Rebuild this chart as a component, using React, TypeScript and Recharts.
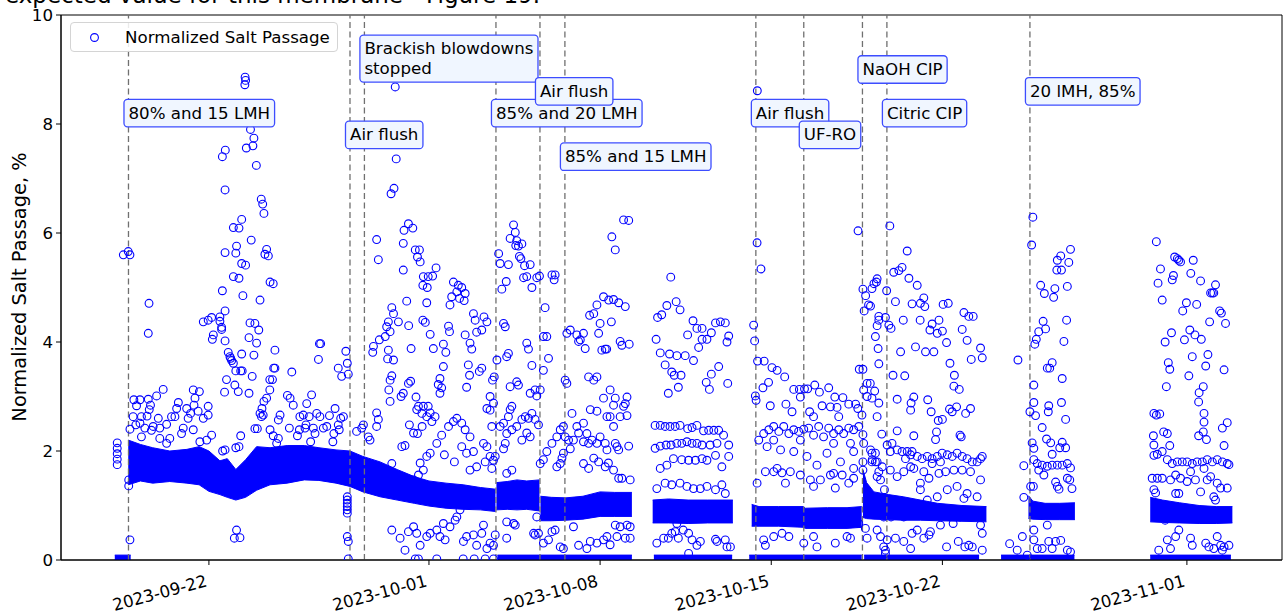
import React from "react";
import {
  ComposedChart,
  Area,
  Scatter,
  XAxis,
  YAxis,
  ReferenceLine,
  ReferenceDot,
  ReferenceArea,
} from "recharts";

type Pt = [number, number];
type Band = [number, number, number];

// days counted from 2023-09-22
const tickDays = [0, 9, 16, 23, 30, 40];
const tickLabels = ["2023-09-22", "2023-10-01", "2023-10-08", "2023-10-15", "2023-10-22", "2023-11-01"];
const yTicks = [0, 2, 4, 6, 8, 10];

const eventDays = [-3.29, 5.77, 6.36, 11.74, 13.54, 14.56, 22.37, 24.33, 26.73, 27.73, 33.58];
const eventLabels = [
  "80% and 15 LMH",
  "Air flush",
  "Brackish blowdowns\nstopped",
  "85% and 20 LMH",
  "Air flush",
  "85% and 15 LMH",
  "Air flush",
  "UF-RO",
  "NaOH CIP",
  "Citric CIP",
  "20 lMH, 85%",
];
const eventLevels = [8.2, 7.8, 9.2, 8.2, 8.6, 7.4, 8.2, 7.8, 9.0, 8.2, 8.6];

// dense core of the measurements: [day, low, high]
const bandAB: Band[] = [
  [-3.3, 1.38, 2.2], [-2.8, 1.45, 2.12], [-2.3, 1.41, 2.06], [-1.6, 1.44, 2.0], [-0.9, 1.41, 2.03],
  [-0.4, 1.38, 2.08], [0.0, 1.26, 2.0], [0.45, 1.2, 1.82], [0.75, 1.15, 1.86], [1.1, 1.1, 1.66],
  [1.5, 1.15, 1.84], [1.95, 1.28, 2.08], [2.5, 1.38, 2.06], [3.2, 1.41, 2.1], [3.9, 1.47, 2.1],
  [4.5, 1.46, 2.06], [5.2, 1.41, 2.02], [5.77, 1.35, 2.0], [6.3, 1.25, 1.9], [7.0, 1.16, 1.8],
  [7.7, 1.1, 1.66], [8.4, 1.04, 1.53], [9.0, 0.99, 1.45], [9.7, 0.95, 1.41], [10.4, 0.93, 1.38],
  [11.1, 0.92, 1.33], [11.72, 0.89, 1.3],
];
const bandC: Band[] = [[11.76, 0.92, 1.42], [12.2, 0.93, 1.44], [12.6, 0.92, 1.47], [13.0, 0.93, 1.45], [13.52, 0.9, 1.47]];
const bandD: Band[] = [[13.56, 0.72, 1.17], [14.0, 0.72, 1.15], [14.6, 0.73, 1.14], [15.3, 0.75, 1.17], [16.0, 0.8, 1.25], [16.6, 0.8, 1.24], [17.3, 0.8, 1.24]];
const bandE: Band[] = [[18.15, 0.68, 1.1], [18.8, 0.68, 1.12], [19.6, 0.67, 1.1], [20.4, 0.68, 1.1], [21.43, 0.68, 1.1]];
const bandF: Band[] = [[22.2, 0.62, 1.02], [22.5, 0.62, 0.98], [23.3, 0.62, 0.98], [24.3, 0.6, 0.98], [24.4, 0.58, 0.95], [25.3, 0.58, 0.96], [26.1, 0.58, 0.96], [26.7, 0.6, 0.98]];
const bandG: Band[] = [[26.75, 0.78, 1.66], [26.9, 0.76, 1.42], [27.2, 0.75, 1.25], [27.8, 0.74, 1.2], [28.4, 0.73, 1.16], [29.1, 0.73, 1.1], [29.8, 0.72, 1.04], [30.8, 0.71, 1.0], [31.8, 0.7, 0.98]];
const bandH: Band[] = [[33.52, 0.76, 1.18], [33.7, 0.75, 1.08], [34.2, 0.74, 1.04], [34.8, 0.74, 1.04], [35.42, 0.74, 1.05]];
const bandI: Band[] = [[38.5, 0.7, 1.15], [39.0, 0.69, 1.1], [39.7, 0.68, 1.05], [40.5, 0.67, 1.0], [41.2, 0.67, 0.98], [41.86, 0.68, 0.98]];

// stretches where readings sit at ~0
const zeroRuns: [number, number][] = [[-3.85, -3.2], [11.8, 17.3], [18.2, 21.4], [22.1, 26.7], [26.8, 31.5], [32.4, 35.4], [38.5, 41.8]];
const zeroSolo = [5.7, 8.44, 8.57, 9.32, 10.4, 10.85, 11.3, 11.64];

const outliersA: Pt[] = [
  [-3.75, 2.15], [-3.75, 2.05], [-3.75, 1.95], [-3.75, 1.85], [-3.75, 1.75],
  [-3.5, 5.6], [-3.3, 5.66], [-3.23, 5.6], [-2.45, 4.71], [-2.48, 4.16], [-3.23, 0.37], [-3.28, 1.47], [-3.28, 1.36],
  [-3.07, 2.94], [-2.82, 2.94], [-2.96, 2.83], [-2.48, 2.95], [-2.39, 2.84], [-2.44, 2.76], [-2.14, 3.01], [-1.87, 3.13],
  [-3.1, 2.63], [-2.76, 2.63], [-2.53, 2.64], [-2.82, 2.51], [-2.99, 2.48], [-3.23, 2.4], [-2.62, 2.42], [-2.28, 2.45],
  [-2.01, 2.42], [-2.07, 2.6], [-1.73, 2.49], [-1.53, 2.63], [-1.39, 2.63], [-1.32, 2.78], [-1.25, 2.89], [-0.91, 2.78],
  [-0.75, 2.69], [-0.85, 2.6], [-0.64, 3.12], [-0.57, 2.97], [-0.61, 2.84], [-0.39, 3.09], [-0.44, 2.73], [-0.23, 2.6],
  [-0.03, 2.66], [-0.03, 2.82], [0.11, 2.29], [-0.09, 2.2], [-0.37, 2.17], [-0.64, 2.39], [-1.05, 2.42], [-1.12, 2.32],
  [-1.6, 2.23], [-2.01, 2.23], [-1.73, 2.14], [-2.76, 2.26], [-2.35, 2.38],
  [1.48, 8.86], [1.5, 8.8], [1.47, 8.72], [0.55, 7.4], [0.67, 7.52], [1.53, 7.56], [1.8, 7.6], [1.84, 7.74], [1.7, 7.9], [1.94, 7.24],
  [0.66, 6.79], [2.14, 6.62], [2.2, 6.53], [2.25, 6.36], [1.34, 6.25], [1.0, 6.1], [1.23, 6.09], [1.73, 5.87], [1.13, 5.76],
  [1.1, 5.63], [0.66, 5.64], [2.36, 5.7], [2.29, 5.61], [2.43, 5.58], [1.34, 5.44], [1.5, 5.41], [1.0, 5.2], [1.23, 5.17],
  [2.5, 5.1], [2.63, 5.07], [0.55, 4.94], [1.39, 4.85], [2.09, 4.77], [0.66, 4.57], [-0.23, 4.37], [-0.03, 4.4], [0.11, 4.45],
  [0.45, 4.46], [0.45, 4.38], [0.52, 4.27], [0.52, 4.23], [0.18, 4.13], [0.14, 4.05], [0.66, 4.02], [1.68, 4.35], [1.88, 4.34],
  [2.04, 4.22], [1.64, 4.08], [1.95, 3.98], [0.79, 3.81], [0.86, 3.73], [0.93, 3.66], [1.0, 3.61], [0.89, 3.7], [1.1, 3.47],
  [1.3, 3.47], [1.36, 3.47], [1.34, 3.78], [1.84, 3.76], [2.7, 3.85], [2.65, 3.52], [2.7, 3.52], [1.77, 3.37], [3.39, 3.45],
  [0.72, 3.31], [1.06, 3.21], [1.2, 3.09], [0.64, 3.08], [1.64, 3.06], [2.49, 3.31], [2.6, 3.31], [2.49, 3.12], [2.36, 2.97],
  [2.25, 2.91], [2.17, 2.78], [2.09, 2.69], [2.15, 2.63], [2.22, 2.66], [2.91, 2.66], [2.84, 2.57], [1.88, 2.41], [1.98, 2.41],
  [2.5, 2.39], [2.63, 2.28], [2.84, 2.23], [2.77, 2.14], [1.3, 2.28], [1.1, 2.06], [1.23, 2.08], [0.66, 2.02], [0.56, 2.0],
  [1.13, 0.55], [1.04, 0.4], [1.27, 0.41],
  [3.21, 3.02], [3.32, 2.97], [3.45, 2.84], [4.0, 2.87], [4.2, 3.03], [3.29, 2.42], [3.7, 2.39], [3.62, 2.28], [3.93, 2.42],
  [3.72, 2.63], [3.86, 2.66], [4.1, 2.63], [3.97, 2.48], [4.41, 2.69], [4.54, 2.63], [4.93, 2.65], [5.16, 2.78], [5.39, 2.6],
  [5.5, 2.63], [5.33, 2.39], [5.11, 2.32], [5.29, 2.48], [4.82, 2.45], [4.68, 2.42], [4.27, 2.42], [4.34, 2.32], [4.16, 2.17],
  [5.07, 2.17], [4.48, 3.68], [4.57, 3.97], [4.52, 3.97], [5.29, 3.52], [5.43, 3.37], [5.6, 3.83], [5.66, 3.61], [5.7, 3.41],
  [5.66, 1.16], [5.66, 1.1], [5.66, 1.04], [5.66, 0.98], [5.66, 0.92], [5.66, 0.86], [5.66, 0.43], [5.7, 0.34],
];

const outliersB: Pt[] = [
  [7.62, 8.68], [7.66, 7.36], [7.45, 6.72], [7.57, 6.82], [8.16, 6.17], [7.98, 6.05], [8.34, 6.09], [7.95, 5.81], [6.86, 5.88],
  [6.93, 5.51], [8.44, 5.69], [8.61, 5.69], [8.53, 5.56], [8.64, 5.47], [7.95, 5.32], [9.29, 5.36], [9.15, 5.21], [8.97, 5.2],
  [8.77, 5.2], [8.93, 5.0], [8.75, 5.04], [10.0, 5.1], [10.2, 5.04], [10.34, 5.0], [10.48, 4.89], [10.14, 4.92], [9.93, 4.83],
  [10.25, 4.8], [10.44, 4.76], [9.86, 4.68], [8.09, 4.75], [8.91, 4.72], [7.48, 4.63], [7.55, 4.52], [7.75, 4.37], [7.34, 4.37],
  [7.27, 4.28], [7.41, 4.19], [7.21, 4.1], [6.73, 3.92], [6.7, 3.81], [6.97, 4.04], [7.34, 3.85], [7.31, 3.69], [7.55, 3.67],
  [7.41, 3.3], [7.48, 3.38], [7.36, 3.12], [8.17, 4.3], [8.27, 3.88], [8.75, 4.4], [8.85, 4.36], [9.05, 4.14], [9.18, 3.88],
  [9.59, 3.96], [9.69, 3.81], [9.8, 4.29], [9.84, 4.19], [9.59, 3.55], [9.45, 3.33], [9.38, 3.22], [9.52, 3.16], [9.45, 3.06],
  [10.82, 4.52], [10.89, 4.4], [10.95, 4.18], [11.25, 4.46], [11.37, 4.37], [11.16, 4.22], [10.48, 4.13], [10.68, 3.98],
  [10.75, 3.87], [10.61, 3.58], [10.66, 3.39], [10.54, 3.17], [11.06, 3.46], [11.16, 3.52], [7.86, 3.0], [7.95, 3.06],
  [8.25, 3.28], [8.16, 3.24], [8.47, 2.99], [8.57, 2.82], [8.77, 2.82], [8.97, 2.82], [9.05, 2.7], [8.91, 2.63], [8.71, 2.69],
  [8.5, 2.76], [7.41, 2.91], [6.93, 2.58], [6.86, 2.7], [8.2, 2.48], [8.37, 2.33], [8.53, 2.32], [8.72, 2.45], [9.25, 2.63],
  [9.12, 2.54], [9.05, 1.96], [9.32, 2.14], [9.52, 2.29], [9.8, 2.45], [10.0, 2.54], [10.14, 2.6], [10.34, 2.51], [10.48, 2.39],
  [10.68, 2.26], [8.64, 1.78], [8.91, 1.9], [8.77, 1.65], [8.57, 1.56], [8.37, 1.47], [10.82, 1.99], [10.95, 1.71], [10.68, 1.65],
  [10.54, 1.96], [10.34, 2.08], [11.23, 2.14], [11.37, 2.08], [11.3, 1.8], [11.5, 1.9], [11.64, 1.83], [11.57, 1.68],
  [11.71, 1.9], [11.64, 2.88], [11.5, 2.75], [11.57, 2.45], [11.37, 2.78], [11.5, 3.0], [11.6, 3.3], [11.78, 3.67],
  [11.67, 3.36], [9.63, 1.93], [10.04, 1.8], [7.89, 2.08], [8.02, 2.1], [7.48, 1.77], [6.86, 2.45], [6.59, 2.2], [6.52, 2.26],
  [6.25, 2.42], [6.32, 2.48], [6.04, 2.36],
  [7.48, 0.55], [7.82, 0.4], [8.02, 0.18], [8.16, 0.52], [8.37, 0.61], [8.5, 0.49], [8.64, 0.27], [8.91, 0.43], [9.05, 0.49],
  [9.32, 0.55], [9.45, 0.43], [9.59, 0.67], [9.66, 0.37], [9.86, 0.61], [10.07, 0.73], [10.14, 0.79], [10.27, 0.92],
  [10.41, 0.34], [10.54, 0.43], [10.82, 0.46], [10.95, 0.27], [11.16, 0.49], [11.23, 0.64], [11.37, 0.21], [11.5, 0.31],
  [11.64, 0.27], [11.71, 0.46],
];

const outliersC: Pt[] = [
  [11.85, 5.62], [11.91, 5.44], [12.25, 5.42], [11.98, 4.97], [12.16, 5.11], [12.46, 6.15], [12.53, 6.01], [12.32, 5.9],
  [12.59, 5.86], [12.55, 5.77], [12.66, 5.76], [12.8, 5.8], [12.7, 5.57], [12.76, 5.53], [12.91, 5.4], [13.14, 5.42],
  [12.87, 5.18], [13.0, 5.2], [13.21, 5.0], [13.41, 5.18], [13.52, 5.21], [12.05, 4.34], [12.12, 4.28], [12.25, 3.79],
  [12.18, 3.73], [12.32, 3.18], [12.59, 3.27], [12.66, 3.21], [12.39, 2.82], [12.32, 2.76], [12.25, 2.63], [13.0, 3.98],
  [13.07, 3.87], [13.21, 3.57], [13.14, 3.06], [13.34, 3.12], [13.41, 3.01], [13.55, 3.12], [11.91, 2.45], [12.05, 2.51],
  [12.18, 2.32], [12.39, 2.39], [12.59, 2.45], [12.8, 2.58], [12.94, 2.63], [13.07, 2.6], [13.21, 2.69], [13.34, 2.58],
  [13.48, 2.48], [13.14, 2.26], [13.0, 2.33], [12.8, 2.2], [12.12, 2.14], [12.05, 2.04], [12.18, 1.59], [12.39, 1.65],
  [12.46, 0.67], [12.18, 0.7], [12.53, 0.64], [12.18, 0.4], [13.28, 0.49], [13.34, 0.46], [13.41, 0.79],
];

const outliersD: Pt[] = [
  [14.03, 5.23], [14.12, 5.14], [14.16, 5.23], [13.75, 4.63], [13.68, 4.1], [13.82, 4.1], [13.89, 3.7], [13.68, 3.48],
  [13.55, 1.77], [13.68, 1.84], [13.82, 1.99], [14.03, 2.14], [14.23, 2.26], [14.37, 2.39], [14.5, 2.45], [13.48, 0.49],
  [13.68, 0.31], [13.89, 0.37], [14.03, 0.52], [14.16, 0.55], [14.37, 0.24], [14.5, 0.21], [14.23, 1.71], [14.37, 1.77],
  [14.44, 1.87], [14.5, 1.96], [14.57, 2.26], [14.71, 2.2], [14.78, 2.04], [14.57, 3.3], [14.64, 3.24], [14.64, 4.16],
  [14.78, 4.22], [15.05, 4.13], [15.19, 4.04], [15.32, 4.16], [15.12, 4.01], [15.39, 3.88], [15.53, 3.36], [15.74, 3.3],
  [15.87, 3.36], [15.57, 4.49], [15.74, 4.52], [15.87, 4.68], [16.14, 4.83], [16.0, 4.34], [15.94, 4.16], [16.07, 3.85],
  [16.21, 3.87], [14.85, 2.69], [15.05, 2.45], [15.32, 2.51], [15.46, 2.32], [15.67, 2.2], [15.87, 2.14], [16.0, 2.26],
  [16.21, 2.14], [16.28, 2.63], [16.14, 2.97], [15.87, 2.73], [15.6, 2.76], [15.12, 2.33], [14.91, 2.2], [15.32, 2.17],
  [15.53, 2.14], [15.32, 1.77], [15.53, 1.68], [15.74, 1.87], [15.94, 1.8], [16.21, 1.71], [16.28, 2.02], [14.91, 0.61],
  [15.6, 0.34], [15.87, 0.31], [16.14, 0.37], [16.28, 0.43], [15.12, 0.27], [15.46, 0.21],
  [16.35, 4.77], [16.55, 4.78], [16.76, 4.72], [17.03, 4.65], [16.46, 4.37], [16.82, 4.01], [16.89, 3.94], [17.19, 3.96],
  [16.96, 6.24], [17.17, 6.23], [16.48, 5.93], [16.62, 5.69], [16.27, 3.87], [16.41, 3.12], [16.62, 2.97], [16.55, 2.84],
  [16.96, 2.82], [17.1, 2.99], [17.03, 2.87], [17.1, 2.65], [16.82, 2.63], [16.41, 2.63], [16.55, 2.45], [16.62, 2.14],
  [16.76, 2.02], [16.69, 2.08], [17.17, 2.09], [16.34, 1.78], [16.55, 1.65], [16.89, 1.5], [17.23, 1.47], [16.76, 1.5],
  [16.62, 0.64], [16.82, 0.61], [17.1, 0.64], [17.23, 0.61], [16.69, 0.43], [17.03, 0.4], [17.23, 0.4], [16.41, 0.28],
];

const outliersE: Pt[] = [
  [18.89, 5.19], [18.35, 4.45], [18.52, 4.5], [18.73, 4.67], [19.11, 4.74], [19.27, 4.59], [18.29, 4.05], [18.46, 3.8],
  [18.84, 3.78], [19.14, 3.75], [18.66, 3.58], [18.93, 3.45], [19.03, 3.39], [19.31, 3.39], [19.2, 3.17], [18.79, 3.06],
  [19.48, 3.75], [19.8, 4.39], [19.96, 4.25], [20.17, 4.25], [19.58, 4.13], [19.82, 3.66], [20.03, 3.9], [20.17, 4.05],
  [20.37, 4.05], [20.55, 4.17], [20.72, 4.35], [20.92, 4.37], [21.12, 4.35], [21.26, 4.11], [21.19, 4.0], [20.85, 3.55],
  [20.55, 3.41], [20.34, 3.26], [20.47, 3.13], [21.22, 3.24],
  [18.25, 2.47], [18.46, 2.47], [18.66, 2.45], [18.86, 2.45], [19.07, 2.45], [19.27, 2.47], [19.58, 2.41], [19.76, 2.43],
  [19.96, 2.47], [20.23, 2.37], [20.44, 2.38], [20.65, 2.38], [20.85, 2.38], [21.05, 2.29],
  [18.25, 2.05], [18.46, 2.09], [18.7, 2.11], [18.9, 2.11], [19.14, 2.14], [19.34, 2.14], [19.55, 2.17], [19.76, 2.14],
  [19.96, 2.14], [20.17, 2.11], [20.5, 2.11], [20.78, 2.14], [21.26, 2.11],
  [18.46, 1.68], [18.73, 1.74], [19.0, 1.86], [19.34, 1.84], [19.62, 1.83], [19.9, 1.83], [20.17, 1.86], [20.37, 1.83],
  [20.72, 1.92], [20.98, 1.71], [21.26, 1.9],
  [18.32, 1.31], [18.66, 1.41], [18.93, 1.38], [19.27, 1.41], [19.55, 1.35], [19.82, 1.31], [20.1, 1.31], [20.37, 1.35],
  [20.72, 1.29], [20.98, 1.38], [21.12, 1.22],
  [19.14, 0.67], [18.32, 0.31], [18.6, 0.4], [18.79, 0.4], [18.93, 0.49], [19.07, 0.52], [19.2, 0.4], [19.4, 0.55],
  [19.62, 0.49], [19.76, 0.37], [19.96, 0.27], [20.1, 0.34], [20.72, 0.38], [20.78, 0.34], [21.12, 0.37], [21.19, 0.24],
  [21.33, 0.24], [19.62, 0.12],
];

const outliersF: Pt[] = [
  [22.43, 8.61], [22.42, 5.82], [22.58, 5.34], [22.28, 4.31], [22.32, 4.02], [22.44, 3.65], [22.71, 3.65], [22.35, 3.01],
  [22.38, 2.93], [23.03, 3.53], [23.24, 3.48], [23.55, 3.36], [22.66, 3.16], [22.89, 3.26], [22.96, 2.83], [23.92, 3.13],
  [24.15, 3.13], [24.36, 3.14], [24.49, 3.14], [24.78, 3.21], [24.97, 3.08], [25.35, 3.16], [25.6, 2.99], [25.93, 2.98],
  [26.17, 2.86], [26.45, 2.86], [26.54, 2.78], [23.6, 2.86], [23.85, 2.72], [24.19, 2.99], [24.57, 2.72], [24.73, 2.63],
  [25.08, 2.83], [25.42, 2.81], [25.69, 2.8], [25.76, 2.63],
  [22.49, 2.2], [22.69, 2.32], [22.9, 2.39], [23.1, 2.45], [23.31, 2.36], [23.51, 2.45], [23.72, 2.32], [23.92, 2.39],
  [24.12, 2.36], [24.33, 2.4], [24.53, 2.42], [24.73, 2.29], [24.94, 2.45], [25.14, 2.26], [25.35, 2.42], [25.55, 2.32],
  [25.76, 2.39], [25.96, 2.32], [26.17, 2.42], [26.37, 2.39], [26.58, 2.45], [23.1, 2.2], [24.19, 2.2], [25.55, 2.14],
  [26.24, 2.14],
  [22.83, 2.08], [23.38, 2.02], [23.92, 1.99], [24.46, 1.9], [24.87, 1.74], [25.28, 1.96], [25.83, 1.8], [26.37, 1.99],
  [26.37, 1.68], [23.24, 1.68], [25.55, 1.59],
  [22.76, 1.62], [23.1, 1.62], [23.44, 1.6], [23.78, 1.62], [24.19, 1.56], [24.6, 1.47], [25.01, 1.47], [25.42, 1.56],
  [25.9, 1.56], [26.37, 1.5], [22.42, 1.41], [23.58, 1.41], [24.73, 1.35], [25.62, 1.32], [26.17, 1.41],
  [22.69, 0.37], [23.1, 0.43], [23.44, 0.49], [23.72, 0.43], [24.33, 0.31], [24.73, 0.43], [24.87, 0.24], [25.62, 0.31],
  [26.1, 0.43], [26.24, 0.4], [26.85, 0.58], [26.92, 0.4], [26.58, 0.67], [22.76, 0.27],
  [26.55, 6.04], [26.75, 4.97], [26.86, 4.85], [26.98, 4.68], [26.8, 4.57], [26.6, 3.5], [26.75, 3.5], [26.92, 3.24],
  [26.78, 3.12], [26.92, 3.0], [26.71, 2.66], [26.75, 2.3], [26.78, 2.14], [26.75, 1.8], [26.75, 1.65], [27.12, 1.96],
  [27.26, 1.96], [27.12, 1.8], [27.33, 1.8],
];

const outliersG: Pt[] = [
  [27.85, 6.13], [28.56, 5.67], [28.01, 5.28], [28.22, 5.31], [28.35, 5.37], [27.2, 5.07], [27.33, 5.16], [27.72, 4.94],
  [28.63, 5.17], [28.97, 5.04], [28.08, 4.74], [28.76, 4.7], [29.1, 4.71], [29.24, 4.81], [29.28, 4.65], [30.03, 4.69],
  [30.24, 4.71], [27.06, 4.66], [27.4, 4.47], [27.67, 4.45], [27.81, 4.31], [27.9, 4.25], [28.4, 4.4], [29.09, 4.4],
  [29.58, 4.33], [29.86, 4.4], [29.49, 4.22], [30.0, 4.2], [29.79, 4.16], [30.88, 4.54], [31.08, 4.47], [31.26, 4.47],
  [30.81, 4.23], [31.01, 4.03], [31.56, 3.89], [31.63, 3.71], [31.18, 3.68], [28.29, 3.82], [28.9, 3.91], [29.31, 3.82],
  [29.65, 3.82], [30.17, 3.99], [30.31, 3.61], [27.98, 3.39], [28.46, 3.38], [30.49, 3.39], [30.47, 3.19], [30.69, 3.13],
  [30.29, 2.77], [30.4, 2.72], [30.58, 2.81], [30.95, 2.69], [31.15, 2.78], [29.83, 2.56], [30.0, 2.58], [28.15, 2.95],
  [28.72, 2.88], [28.83, 2.99], [29.4, 2.94], [29.54, 2.72], [28.7, 2.75], [30.72, 2.29], [30.77, 2.26], [29.72, 2.21],
  [29.76, 2.35], [28.83, 2.28], [28.15, 2.37], [27.52, 2.31],
  [27.74, 2.11], [27.94, 2.14], [28.15, 2.02], [28.35, 1.99], [28.56, 1.99], [28.76, 1.99], [28.97, 1.9], [29.17, 1.86],
  [29.38, 1.9], [29.58, 1.86], [29.79, 1.9], [29.99, 1.96], [30.2, 1.93], [30.4, 1.9], [30.6, 1.96], [30.81, 1.9],
  [31.01, 1.86], [31.22, 1.8], [31.42, 1.8], [31.63, 1.9], [27.87, 1.99], [28.7, 1.93], [29.92, 1.8], [28.49, 1.86],
  [31.56, 1.86],
  [27.87, 1.65], [28.15, 1.53], [28.42, 1.62], [28.83, 1.68], [29.24, 1.62], [29.58, 1.77], [29.86, 1.59], [30.13, 1.62],
  [30.47, 1.65], [30.81, 1.65], [31.15, 1.62], [31.56, 1.47], [28.7, 1.71], [29.45, 1.5], [29.1, 1.41],
  [29.1, 1.29], [29.38, 1.1], [29.79, 1.16], [30.2, 1.29], [30.6, 1.35], [31.01, 1.22], [31.42, 1.16], [30.88, 1.13],
  [27.6, 0.79], [27.9, 0.79], [28.42, 0.79], [28.97, 0.55], [29.51, 0.52], [29.92, 0.64], [30.44, 0.67], [30.72, 0.79],
  [31.56, 0.64], [31.63, 0.49], [27.33, 0.55], [27.74, 0.37], [28.08, 0.4], [28.42, 0.34], [28.76, 0.49], [29.24, 0.4],
  [29.45, 0.46], [30.17, 0.24], [30.65, 0.34], [30.92, 0.24], [31.08, 0.27], [31.22, 0.24], [31.63, 0.18], [27.67, 0.18],
  [28.7, 0.21],
  [27.12, 4.98], [27.3, 5.1], [27.4, 4.4], [27.33, 4.3], [27.26, 4.1], [27.37, 3.88], [27.4, 3.6], [27.05, 3.24],
  [27.23, 3.1], [27.12, 2.97], [27.4, 2.88], [27.33, 2.63], [27.06, 2.02], [27.13, 1.84], [27.26, 1.8], [27.33, 1.53],
  [27.47, 1.47], [27.54, 1.71], [27.4, 1.62], [27.63, 1.29], [27.47, 0.43], [27.6, 0.24], [27.67, 0.12],
];

const outliersH: Pt[] = [
  [33.7, 6.29], [33.65, 5.78], [35.24, 5.7], [35.17, 5.46], [34.84, 5.58], [34.7, 5.5], [34.87, 5.32], [34.68, 5.32],
  [35.11, 5.02], [34.6, 4.98], [34.55, 4.82], [34.17, 4.89], [34.02, 5.04], [35.08, 4.4], [34.97, 4.01], [34.12, 4.38],
  [34.22, 4.24], [33.94, 4.19], [33.84, 4.05], [33.78, 3.96], [33.09, 3.67], [34.29, 3.52], [34.39, 3.52], [34.49, 3.62],
  [34.9, 3.33], [33.74, 3.21], [33.74, 2.89], [33.58, 2.72], [33.81, 2.65], [34.35, 2.83], [34.33, 2.72], [34.87, 2.89],
  [35.04, 2.58], [34.08, 2.43], [34.26, 2.22], [34.43, 2.15], [33.67, 2.15], [33.74, 2.05], [34.49, 1.94], [34.9, 2.16],
  [35.04, 2.06], [34.8, 2.06],
  [33.74, 1.84], [33.88, 1.77], [34.08, 1.74], [34.29, 1.72], [34.49, 1.74], [34.7, 1.74], [34.9, 1.74], [35.11, 1.77],
  [35.24, 1.69], [33.94, 1.65], [34.15, 1.56], [33.33, 1.73],
  [34.63, 1.43], [34.7, 1.35], [34.77, 1.3], [35.11, 1.5], [35.21, 1.47], [35.3, 1.31], [33.33, 1.15], [33.61, 1.35],
  [33.72, 1.35],
  [34.29, 0.64], [33.74, 0.55], [33.06, 0.18], [33.27, 0.43], [32.75, 0.3], [33.47, 0.09], [33.88, 0.21], [33.74, 0.37],
  [34.08, 0.21], [34.35, 0.34], [34.49, 0.21], [34.63, 0.34], [34.84, 0.36], [35.11, 0.18], [35.24, 0.15],
];

const outliersI: Pt[] = [
  [38.75, 5.84], [38.92, 5.34], [38.82, 5.08], [39.5, 5.56], [39.61, 5.53], [39.74, 5.47], [39.67, 5.5], [40.26, 5.5],
  [39.45, 5.22], [39.4, 5.14], [40.16, 5.26], [40.56, 5.12], [38.99, 4.77], [39.98, 4.72], [40.4, 4.69], [39.83, 4.57],
  [41.34, 4.57], [41.41, 4.53], [41.58, 4.34], [40.93, 4.37], [41.04, 4.9], [41.17, 5.05], [40.97, 4.9], [41.1, 4.9],
  [39.37, 4.17], [39.11, 4.0], [40.12, 4.22], [40.33, 4.13], [40.59, 4.05], [39.9, 4.04], [40.22, 3.73], [40.86, 3.77],
  [40.77, 3.56], [39.24, 3.62], [39.3, 3.5], [39.16, 3.18], [40.08, 3.38], [41.52, 3.49], [40.67, 3.18], [40.5, 3.07],
  [40.48, 2.9], [38.65, 2.69], [38.75, 2.66], [38.89, 2.68], [40.7, 2.69], [40.7, 2.53], [40.48, 2.28], [40.67, 2.35],
  [40.8, 2.21], [41.45, 2.42], [41.65, 2.52], [41.52, 2.1], [38.63, 2.28], [38.65, 2.11], [39.05, 2.35], [39.2, 2.32],
  [39.3, 2.1],
  [38.65, 1.92], [38.79, 1.94], [38.99, 1.99], [39.2, 1.84], [39.4, 1.77], [39.61, 1.8], [39.81, 1.8], [40.01, 1.8],
  [40.22, 1.77], [40.42, 1.8], [40.63, 1.8], [40.83, 1.84], [41.04, 1.8], [41.24, 1.84], [41.45, 1.8], [41.65, 1.77],
  [41.72, 1.75], [40.15, 1.62], [40.7, 1.68],
  [38.58, 1.5], [38.79, 1.5], [38.99, 1.5], [39.33, 1.47], [39.54, 1.56], [39.74, 1.5], [40.01, 1.44], [40.35, 1.47],
  [40.56, 1.25], [40.83, 1.47], [40.97, 1.53], [41.24, 1.41], [41.38, 1.32], [41.65, 1.32], [38.72, 1.23],
  [38.65, 1.29], [39.54, 1.22], [39.67, 1.22], [41.1, 1.16], [41.17, 1.1],
  [39.11, 0.73], [39.67, 0.55], [39.54, 0.43], [39.2, 0.37], [39.33, 0.21], [40.15, 0.4], [40.22, 0.27], [40.77, 0.31],
  [40.9, 0.24], [41.1, 0.21], [41.24, 0.43], [41.38, 0.27], [41.52, 0.24], [41.72, 0.27], [38.85, 0.18], [39.94, 0.76],
  [41.45, 0.18],
];

const BLUE = "#0000ff";
const FONT = "'DejaVu Sans', sans-serif";

const scatterData = [
  ...outliersA, ...outliersB, ...outliersC, ...outliersD, ...outliersE,
  ...outliersF, ...outliersG, ...outliersH, ...outliersI,
].map(([d, v]) => ({ d, v }));
const zeroSoloData = zeroSolo.map((d) => ({ d, v: 0.02 }));

const bands = [bandAB, bandC, bandD, bandE, bandF, bandG, bandH, bandI].map((b) =>
  b.map(([d, lo, hi]) => ({ d, r: [lo, hi] }))
);
const zeroBands = zeroRuns.map(([a, b]) => [
  { d: a, r: [0, 0.09] },
  { d: b, r: [0, 0.09] },
]);

let ctx: CanvasRenderingContext2D | null = null;
function textWidth(s: string) {
  if (!ctx) ctx = document.createElement("canvas").getContext("2d");
  if (!ctx) return s.length * 9;
  ctx.font = "16.67px 'DejaVu Sans'";
  return ctx.measureText(s).width;
}

const Ring = (p: any) => (
  <circle cx={p.cx} cy={p.cy} r={3.9} fill="none" stroke={BLUE} strokeWidth={1.1} />
);

function noteShape(label: string) {
  return (p: any) => {
    const lines = label.split("\n");
    const w = Math.max(...lines.map(textWidth));
    const lh = 19.5;
    const h = lines.length * lh + 8;
    return (
      <g>
        <rect x={p.cx - 4.5} y={p.cy - h / 2} width={w + 9} height={h} rx={3.5}
          fill="#f0f6ff" stroke="#3d4dff" strokeWidth={1.3} />
        {lines.map((l, i) => (
          <text key={i} x={p.cx} y={p.cy - ((lines.length - 1) * lh) / 2 + i * lh}
            dominantBaseline="central" fontSize={16.67} fontFamily={FONT} fill="#000">
            {l}
          </text>
        ))}
      </g>
    );
  };
}

const DateTick = (p: any) => {
  const { x, payload } = p;
  const label = tickLabels[tickDays.indexOf(payload.value)];
  return (
    <text x={x - 1} y={586} transform={`rotate(-15 ${x - 1} 586)`} textAnchor="end"
      fontSize={16.67} fontFamily={FONT} fill="#000">
      {label}
    </text>
  );
};

export default function App() {
  return (
    <div style={{ position: "absolute", left: 0, top: 0, width: 1285, height: 615, background: "#fff", overflow: "hidden" }}>
      <ComposedChart width={1285} height={615} margin={{ top: 15, right: 3, bottom: 0, left: 0 }}>
        <XAxis
          dataKey="d"
          type="number"
          domain={[-6.05, 43.89]}
          allowDataOverflow
          ticks={tickDays}
          tick={<DateTick />}
          tickSize={5}
          height={55}
          axisLine={{ stroke: "#000" }}
          tickLine={{ stroke: "#000" }}
        />
        <YAxis
          dataKey="v"
          type="number"
          domain={[0, 10]}
          allowDataOverflow
          ticks={yTicks}
          width={61}
          tickSize={5}
          tickMargin={3}
          axisLine={{ stroke: "#000" }}
          tickLine={{ stroke: "#000" }}
          tick={{ fill: "#000", fontSize: 16.67, fontFamily: FONT }}
        />
        <ReferenceArea x1={-6.05} x2={43.89} y1={0} y2={10} fill="none" stroke="#000" strokeWidth={1} ifOverflow="visible" />
        {bands.map((b, i) => (
          <Area key={"b" + i} data={b} dataKey="r" type="linear" stroke={BLUE} strokeWidth={1}
            fill={BLUE} fillOpacity={1} dot={false} activeDot={false} isAnimationActive={false} />
        ))}
        {zeroBands.map((b, i) => (
          <Area key={"z" + i} data={b} dataKey="r" type="linear" stroke={BLUE} strokeWidth={1}
            fill={BLUE} fillOpacity={1} dot={false} activeDot={false} isAnimationActive={false} />
        ))}
        <Scatter data={scatterData} shape={Ring} isAnimationActive={false} />
        <Scatter data={zeroSoloData} shape={Ring} isAnimationActive={false} />
        {eventDays.map((d) => (
          <ReferenceLine key={"l" + d} x={d} stroke="#707070" strokeWidth={1.3} strokeDasharray="6 3.5" />
        ))}
        {eventDays.map((d, i) => (
          <ReferenceDot key={"n" + d} x={d} y={eventLevels[i]} r={0} ifOverflow="visible"
            shape={noteShape(eventLabels[i])} />
        ))}
      </ComposedChart>
      <svg width={1285} height={615} style={{ position: "absolute", left: 0, top: 0, pointerEvents: "none" }}>
        <text x={5} y={3} fontSize={23} fontFamily={FONT} fill="#000">
          expected value for this membrane - Figure 19.
        </text>
        <text x={19} y={287} transform="rotate(-90 19 287)" textAnchor="middle" dominantBaseline="central"
          fontSize={19.4} fontFamily={FONT} fill="#000">
          Normalized Salt Passage, %
        </text>
      </svg>
      <div style={{
        position: "absolute", left: 70, top: 22, width: 268, height: 30, boxSizing: "border-box",
        border: "1px solid #d4d4d4", borderRadius: 4, background: "rgba(255,255,255,0.85)",
        fontFamily: FONT, fontSize: 16.67, display: "flex", alignItems: "center",
      }}>
        <svg width={50} height={28}>
          <circle cx={23.5} cy={14.5} r={3.9} fill="none" stroke={BLUE} strokeWidth={1.1} />
        </svg>
        <span style={{ marginLeft: 4 }}>Normalized Salt Passage</span>
      </div>
    </div>
  );
}
